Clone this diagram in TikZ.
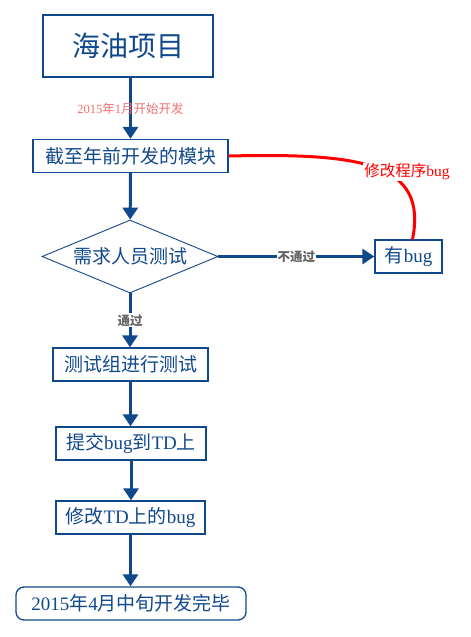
\documentclass[tikz,border=0pt]{standalone}
\usepackage{fontspec}
\setmainfont{Liberation Serif}
\newfontfamily\cn{Noto Sans CJK SC}
\usetikzlibrary{shapes.geometric,arrows.meta}
\definecolor{hyblue}{RGB}{16,72,140}
\definecolor{hypink}{RGB}{240,110,110}
\definecolor{hygray}{RGB}{100,100,100}
\tikzset{%
	block/.style    = {draw=hyblue, line width=1.3pt, rectangle, text=hyblue,
		minimum height=33pt, inner sep=0pt, font=\fontsize{19}{22}\selectfont},
	headbox/.style  = {block, line width=2pt, minimum width=170pt,
		minimum height=62pt, font=\fontsize{28}{32}\selectfont},
	decision/.style = {draw=hyblue, line width=0.9pt, diamond, aspect=2.4, inner sep=0pt,
		minimum width=176pt, minimum height=73pt, text=hyblue, font=\fontsize{19}{22}\selectfont},
	flow/.style     = {draw=hyblue, line width=3pt, -{Triangle[length=12pt,width=15pt]}}, % Arrow
	note/.style     = {text=hygray, fill=white, inner sep=1pt, font=\fontsize{12.5}{14}\selectfont\bfseries},
	fix/.style      = {draw=red, line width=3pt} % Red loop
}
\begin{document}
\begin{tikzpicture}[x=1pt,y=-1pt]
			\useasboundingbox (0,0) rectangle (471,637);
			\node[headbox]                    (project) at (128,46)    {\cn 海油项目};
			\node[block, minimum width=195pt] (modules) at (130.5,156) {\cn 截至年前开发的模块};
			\node[decision]                   (review)  at (130,256.5) {\cn 需求人员测试};
			\node[block, minimum width=67pt]  (hasbug)  at (408.5,256.5) {{\cn 有}bug};
			\node[block, minimum width=155pt] (qatest)  at (130.5,364.5) {\cn 测试组进行测试};
			\node[block, minimum width=150pt] (submit)  at (131,443.5) {{\cn 提交}bug{\cn 到}TD{\cn 上}};
			\node[block, minimum width=149pt] (fixtd)   at (130.5,517.5) {{\cn 修改}TD{\cn 上的}bug};
			\node[block, minimum width=230pt, rounded corners=8pt] (done) at (131,603.5) {2015{\cn 年}4{\cn 月中旬开发完毕}};

			\draw[flow] (project.south -| modules) -- (modules.north)
				node[midway, text=hypink, font=\fontsize{12.5}{14}\selectfont] {2015{\cn 年}1{\cn 月开始开发}};
			\draw[flow] (modules) -- (review);
			\draw[flow] (review) -- (hasbug) node[midway, note] {\cn 不通过};
			\draw[flow] (review.south) -- (review.south |- qatest.north) node[midway, note] {\cn 通过};
			\draw[flow] (qatest.south) -- (qatest.south |- submit.north);
			\draw[flow] (submit.south) -- (submit.south |- fixtd.north);
			\draw[flow] (fixtd.south) -- (fixtd.south |- done.north);

			\draw[fix] (modules.east) .. controls (360,153) and (428,162) .. ([xshift=4pt]hasbug.north);
			\node[text=red, fill=white, inner sep=1pt, font=\fontsize{15.5}{17}\selectfont] (fixnote) at (407,172) {{\cn 修改程序}bug};
		\end{tikzpicture}
\end{document}
